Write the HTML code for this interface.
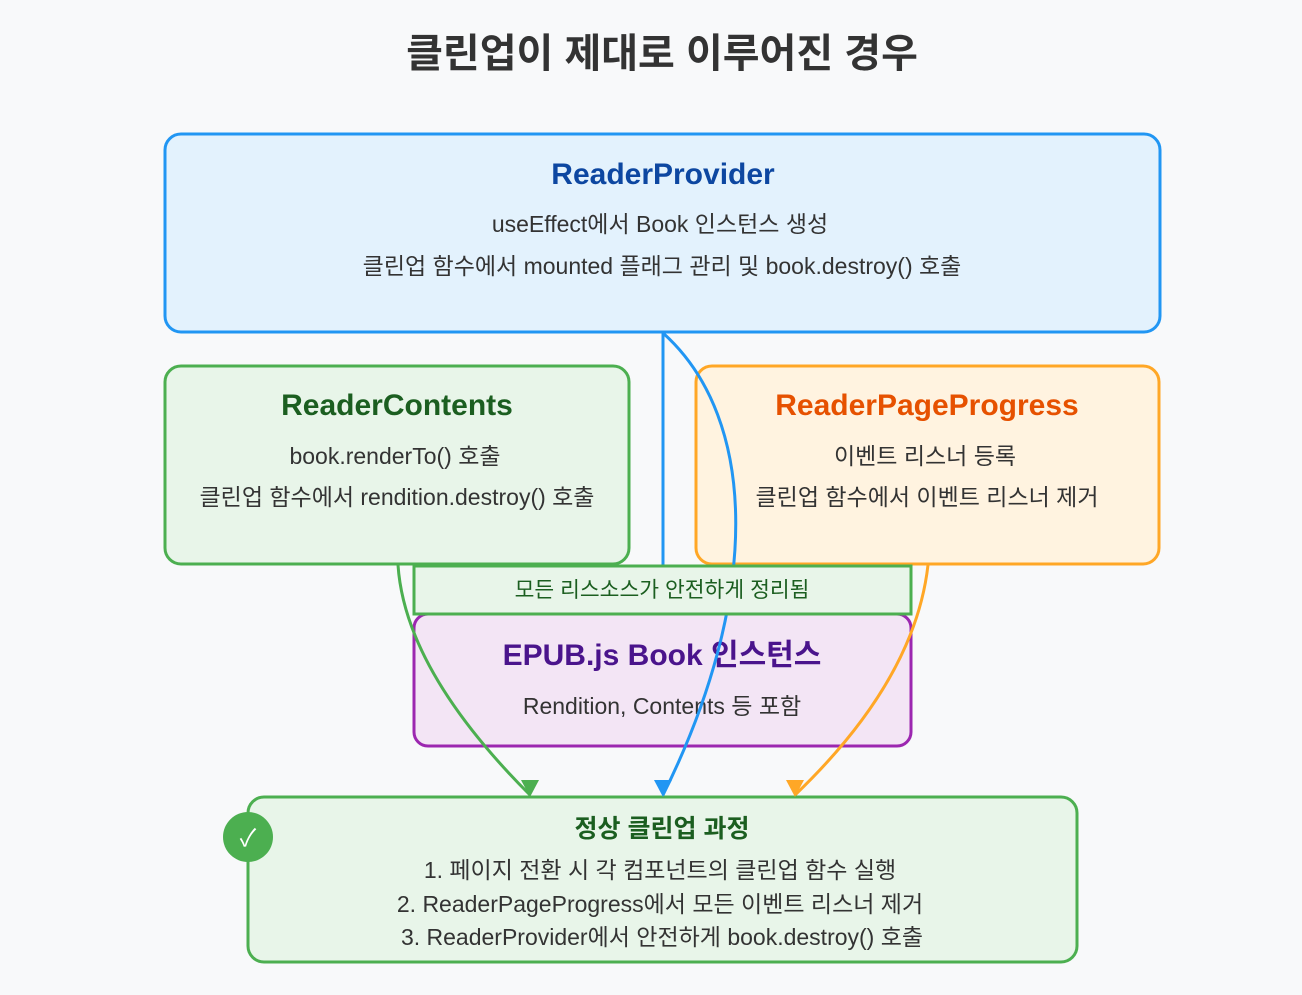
<!DOCTYPE html>
<html><head><meta charset="utf-8"><style>
body{margin:0;background:#f8f9fa;}
svg text{font-family:"Liberation Sans","Noto Sans CJK KR",sans-serif;}
</style></head><body>
<svg width="1302" height="990" viewBox="0 0 1302 990" xmlns="http://www.w3.org/2000/svg">
<rect width="1302" height="990" fill="#f8f9fa"/>
<text x="662" y="67" text-anchor="middle" font-size="40" font-weight="bold" fill="#333">클린업이 제대로 이루어진 경우</text>

<rect x="165" y="134" width="995" height="198" rx="16" fill="#e3f2fd" stroke="#2196f3" stroke-width="3"/>
<text x="663" y="184" text-anchor="middle" font-size="30" font-weight="bold" fill="#0d47a1">ReaderProvider</text>
<text x="660" y="232" text-anchor="middle" font-size="23" fill="#333">useEffect에서 Book 인스턴스 생성</text>
<text x="662" y="274" text-anchor="middle" font-size="23" fill="#333">클린업 함수에서 mounted 플래그 관리 및 book.destroy() 호출</text>

<rect x="165" y="366" width="464" height="198" rx="16" fill="#e8f5e9" stroke="#4caf50" stroke-width="3"/>
<text x="397" y="415" text-anchor="middle" font-size="30" font-weight="bold" fill="#1b5e20">ReaderContents</text>
<text x="395" y="464" text-anchor="middle" font-size="23" fill="#333">book.renderTo() 호출</text>
<text x="397" y="505" text-anchor="middle" font-size="23" fill="#333">클린업 함수에서 rendition.destroy() 호출</text>

<rect x="696" y="366" width="463" height="198" rx="16" fill="#fff3e0" stroke="#ffa726" stroke-width="3"/>
<text x="927" y="415" text-anchor="middle" font-size="30" font-weight="bold" fill="#e65100">ReaderPageProgress</text>
<text x="925" y="464" text-anchor="middle" font-size="23" fill="#333">이벤트 리스너 등록</text>
<text x="927" y="505" text-anchor="middle" font-size="23" fill="#333">클린업 함수에서 이벤트 리스너 제거</text>

<rect x="414" y="614" width="497" height="132" rx="14" fill="#f3e5f5" stroke="#9c27b0" stroke-width="3"/>
<text x="662" y="665" text-anchor="middle" font-size="30" font-weight="bold" fill="#4a148c">EPUB.js Book 인스턴스</text>
<text x="662" y="714" text-anchor="middle" font-size="23" fill="#333">Rendition, Contents 등 포함</text>

<g fill="none" stroke-width="3">
<line x1="663" y1="333" x2="663" y2="566" stroke="#2196f3"/>
<path d="M663 333 C760 420 760 600 663 795" stroke="#2196f3"/>
<path d="M398 565 Q405 670 530 795" stroke="#4caf50"/>
<path d="M928 565 Q915 680 795 795" stroke="#ffa726"/>
</g>

<rect x="414" y="566" width="497" height="48" fill="#e8f5e9" stroke="#4caf50" stroke-width="3"/>
<text x="662" y="597" text-anchor="middle" font-size="21.5" fill="#1b5e20">모든 리스소스가 안전하게 정리됨</text>

<rect x="248" y="797" width="829" height="165" rx="16" fill="#e8f5e9" stroke="#4caf50" stroke-width="3"/>
<polygon points="521,780 539,780 530,797" fill="#4caf50"/>
<polygon points="654,780 672,780 663,797" fill="#2196f3"/>
<polygon points="786,780 804,780 795,797" fill="#ffa726"/>
<circle cx="248" cy="837" r="25" fill="#4caf50"/>
<text x="248" y="846" text-anchor="middle" font-size="24" fill="#fff">✓</text>
<text x="662" y="837" text-anchor="middle" font-size="25" font-weight="bold" fill="#1b5e20">정상 클린업 과정</text>
<text x="660" y="878" text-anchor="middle" font-size="23" fill="#333">1. 페이지 전환 시 각 컴포넌트의 클린업 함수 실행</text>
<text x="660" y="912" text-anchor="middle" font-size="23" fill="#333">2. ReaderPageProgress에서 모든 이벤트 리스너 제거</text>
<text x="662" y="945" text-anchor="middle" font-size="23" fill="#333">3. ReaderProvider에서 안전하게 book.destroy() 호출</text>
</svg>
</body></html>
